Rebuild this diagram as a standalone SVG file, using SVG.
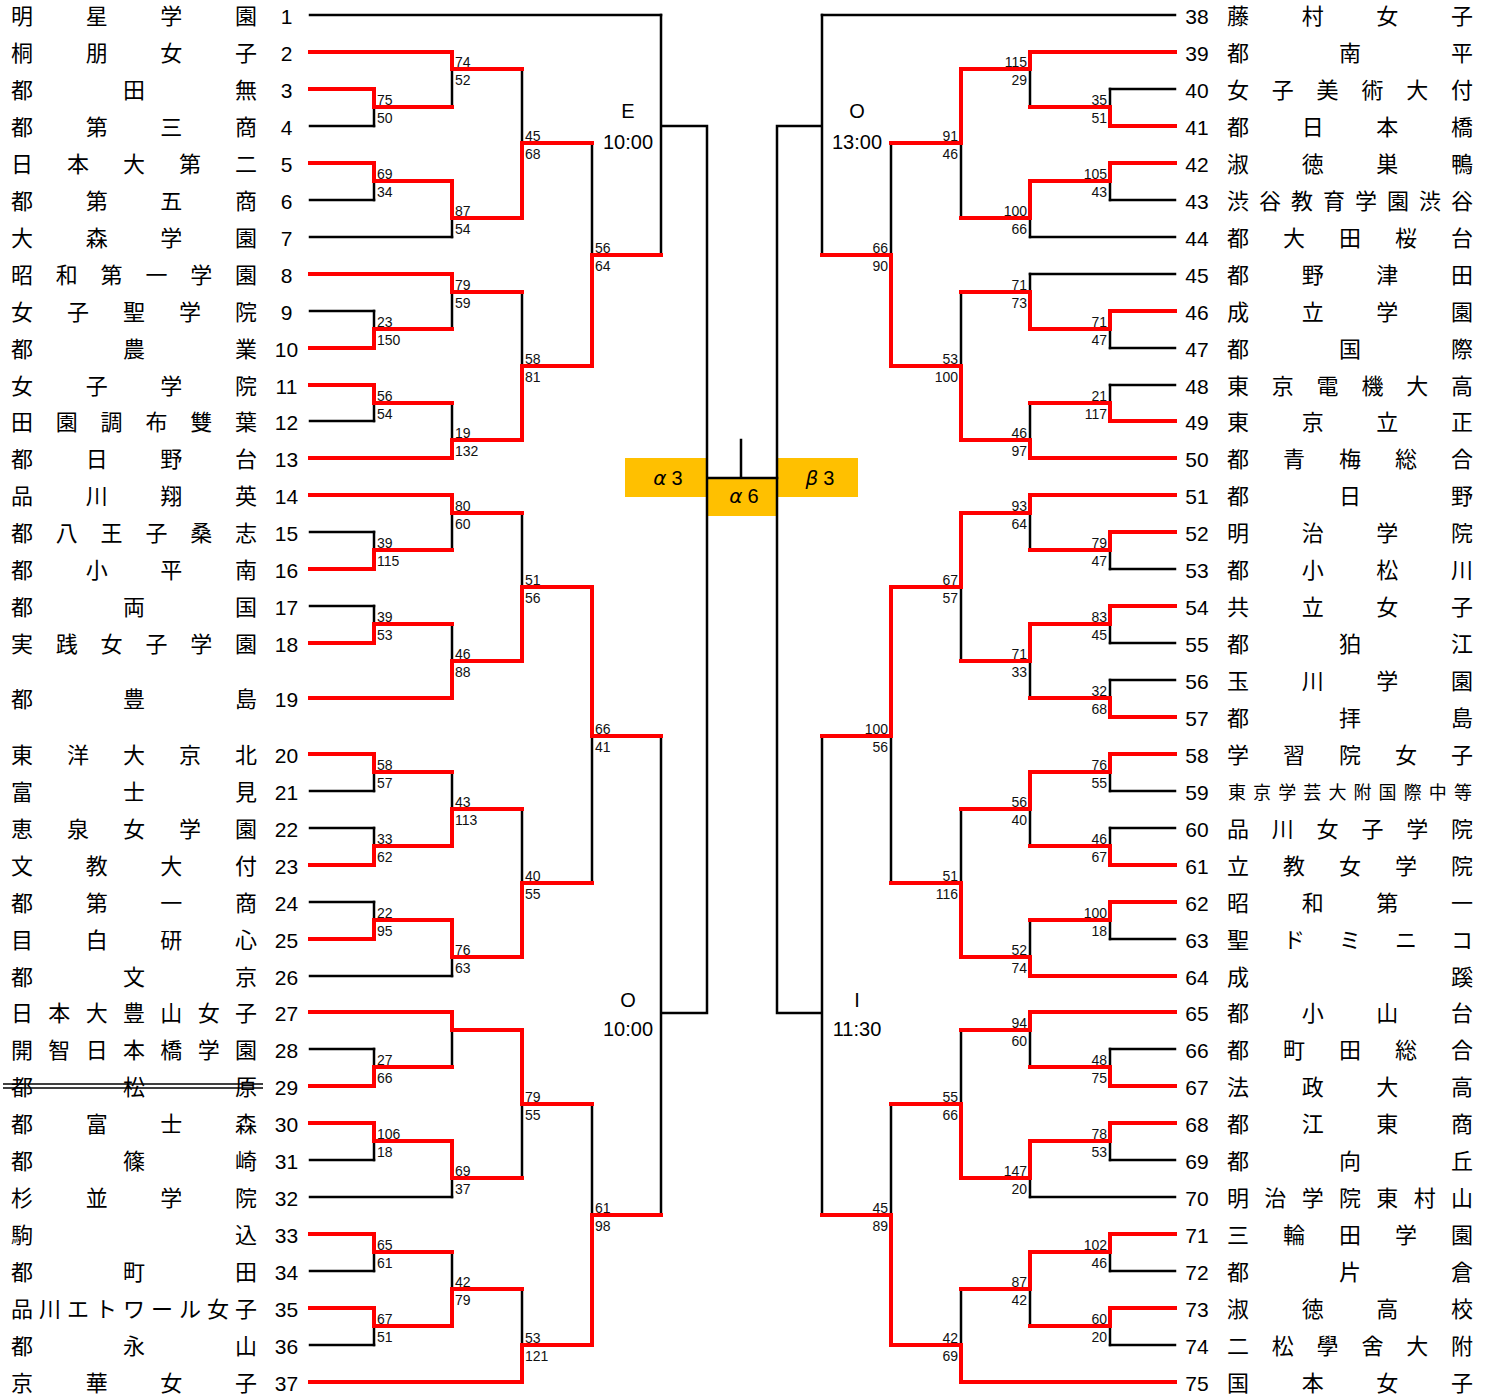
<svg xmlns="http://www.w3.org/2000/svg" width="1491" height="1398" viewBox="0 0 1491 1398">
<style>
.b{fill:none;stroke:#000;stroke-width:2.5;stroke-linecap:square}
.r{fill:none;stroke:#f00;stroke-width:4;stroke-linecap:square}
.k{fill:none;stroke:#000;stroke-width:1.3}
.nm{font-family:"Noto Sans CJK JP","Noto Sans CJK SC",sans-serif;font-size:22px;fill:#000}
.nm2{font-family:"Noto Sans CJK JP","Noto Sans CJK SC",sans-serif;font-size:18px;fill:#000}
.no{font-family:"Liberation Sans",Arial,sans-serif;font-size:21px;text-anchor:middle;fill:#000}
.sc{font-family:"Liberation Sans",Arial,sans-serif;font-size:14px;fill:#111}
.se{font-family:"Liberation Sans",Arial,sans-serif;font-size:14px;fill:#111;text-anchor:end}
.rd{font-family:"Liberation Sans",Arial,sans-serif;font-size:20px;text-anchor:middle;fill:#000}
.bx{fill:#FFC000}
.gl{font-family:"Liberation Sans",Arial,sans-serif;font-size:20px;text-anchor:middle;fill:#000}
.it{font-style:italic;font-family:"DejaVu Sans","Liberation Sans",sans-serif}
</style>
<rect width="1491" height="1398" fill="#fff"/>

<g id="final-boxes">
<rect class="bx" x="625" y="458" width="81" height="39"/>
<rect class="bx" x="778" y="458" width="80" height="39"/>
<rect class="bx" x="708" y="478" width="68" height="38"/>
</g>

<g id="connectors">
<path class="b" d="M310 15H661M310 126H374M310 200H374M310 237H452M310 311H374M310 421H374M310 532H374M310 606H374M310 791H374M310 828H374M310 902H374M310 976H452M310 1049H374M310 1160H374M310 1197H452M310 1271H374M310 1345H374"/>
<path class="b" d="M374 89V126M374 163V200M374 311V348M374 385V421M374 532V569M374 606V643M374 754V791M374 828V865M374 902V939M374 1049V1086M374 1123V1160M374 1234V1271M374 1308V1345"/>
<path class="b" d="M452 52V107M452 181V237M452 274V329M452 403V458M452 495V550M452 624V698M452 772V846M452 920V976M452 1012V1067M452 1141V1197M452 1252V1326"/>
<path class="b" d="M522 69V218M522 292V440M522 513V661M522 809V957M522 1030V1178M522 1289V1382"/>
<path class="b" d="M592 143V366M592 587V883M592 1104V1345M661 15V255M661 736V1215M661 126H707M661 1013H707M707 126V1013M707 478H777M741 440V478"/>
<path class="b" d="M1175 15H822M1175 89H1110M1175 200H1110M1175 237H1030M1175 274H1030M1175 348H1110M1175 385H1110M1175 569H1110M1175 643H1110M1175 680H1110M1175 791H1110M1175 828H1110M1175 939H1110M1175 1049H1110M1175 1160H1110M1175 1197H1030M1175 1271H1110M1175 1345H1110"/>
<path class="b" d="M1110 89V126M1110 163V200M1110 311V348M1110 385V421M1110 532V569M1110 606V643M1110 680V717M1110 754V791M1110 828V865M1110 902V939M1110 1049V1086M1110 1123V1160M1110 1234V1271M1110 1308V1345"/>
<path class="b" d="M1030 52V107M1030 181V237M1030 274V329M1030 403V458M1030 495V550M1030 624V698M1030 772V846M1030 920V976M1030 1012V1067M1030 1141V1197M1030 1252V1326"/>
<path class="b" d="M961 69V218M961 292V440M961 513V661M961 809V957M961 1030V1178M961 1289V1382"/>
<path class="b" d="M891 143V366M891 587V883M891 1104V1345M822 15V255M822 736V1215M822 126H777M822 1013H777M777 126V1013"/>

<path class="r" d="M310 52H452M310 89H374M310 163H374M310 274H452M310 348H374M310 385H374M310 458H452M310 495H452M310 569H374M310 643H374M310 698H452M310 754H374M310 865H374M310 939H374M310 1012H452M310 1086H374M310 1123H374M310 1234H374M310 1308H374M310 1382H522"/>
<path class="r" d="M374 89V107H452M374 163V181H452M374 348V329H452M374 385V403H452M374 569V550H452M374 643V624H452M374 754V772H452M374 865V846H452M374 939V920H452M374 1086V1067H452M374 1123V1141H452M374 1234V1252H452M374 1308V1326H452"/>
<path class="r" d="M452 52V69H522M452 181V218H522M452 274V292H522M452 458V440H522M452 495V513H522M452 698V661H522M452 846V809H522M452 920V957H522M452 1012V1030H522M452 1141V1178H522M452 1326V1289H522"/>
<path class="r" d="M522 218V143H592M522 440V366H592M522 661V587H592M522 957V883H592M522 1030V1104H592M522 1382V1345H592M592 366V255H661M592 587V736H661M592 1345V1215H661"/>
<path class="r" d="M1175 52H1030M1175 126H1110M1175 163H1110M1175 311H1110M1175 421H1110M1175 458H1030M1175 495H1030M1175 532H1110M1175 606H1110M1175 717H1110M1175 754H1110M1175 865H1110M1175 902H1110M1175 976H1030M1175 1012H1030M1175 1086H1110M1175 1123H1110M1175 1234H1110M1175 1308H1110M1175 1382H961"/>
<path class="r" d="M1110 126V107H1030M1110 163V181H1030M1110 311V329H1030M1110 421V403H1030M1110 532V550H1030M1110 606V624H1030M1110 717V698H1030M1110 754V772H1030M1110 865V846H1030M1110 902V920H1030M1110 1086V1067H1030M1110 1123V1141H1030M1110 1234V1252H1030M1110 1308V1326H1030"/>
<path class="r" d="M1030 52V69H961M1030 181V218H961M1030 329V292H961M1030 458V440H961M1030 495V513H961M1030 624V661H961M1030 772V809H961M1030 976V957H961M1030 1012V1030H961M1030 1141V1178H961M1030 1252V1289H961"/>
<path class="r" d="M961 69V143H891M961 440V366H891M961 513V587H891M961 957V883H891M961 1178V1104H891M961 1382V1345H891M891 366V255H822M891 587V736H822M891 1345V1215H822"/>
</g>

<g id="scores">
<text class="sc" x="377" y="105">75</text><text class="sc" x="377" y="123">50</text>
<text class="sc" x="377" y="179">69</text><text class="sc" x="377" y="197">34</text>
<text class="sc" x="377" y="327">23</text><text class="sc" x="377" y="345">150</text>
<text class="sc" x="377" y="401">56</text><text class="sc" x="377" y="419">54</text>
<text class="sc" x="377" y="548">39</text><text class="sc" x="377" y="566">115</text>
<text class="sc" x="377" y="622">39</text><text class="sc" x="377" y="640">53</text>
<text class="sc" x="377" y="770">58</text><text class="sc" x="377" y="788">57</text>
<text class="sc" x="377" y="844">33</text><text class="sc" x="377" y="862">62</text>
<text class="sc" x="377" y="918">22</text><text class="sc" x="377" y="936">95</text>
<text class="sc" x="377" y="1065">27</text><text class="sc" x="377" y="1083">66</text>
<text class="sc" x="377" y="1139">106</text><text class="sc" x="377" y="1157">18</text>
<text class="sc" x="377" y="1250">65</text><text class="sc" x="377" y="1268">61</text>
<text class="sc" x="377" y="1324">67</text><text class="sc" x="377" y="1342">51</text>
<text class="sc" x="455" y="67">74</text><text class="sc" x="455" y="85">52</text>
<text class="sc" x="455" y="216">87</text><text class="sc" x="455" y="234">54</text>
<text class="sc" x="455" y="290">79</text><text class="sc" x="455" y="308">59</text>
<text class="sc" x="455" y="438">19</text><text class="sc" x="455" y="456">132</text>
<text class="sc" x="455" y="511">80</text><text class="sc" x="455" y="529">60</text>
<text class="sc" x="455" y="659">46</text><text class="sc" x="455" y="677">88</text>
<text class="sc" x="455" y="807">43</text><text class="sc" x="455" y="825">113</text>
<text class="sc" x="455" y="955">76</text><text class="sc" x="455" y="973">63</text>
<text class="sc" x="455" y="1176">69</text><text class="sc" x="455" y="1194">37</text>
<text class="sc" x="455" y="1287">42</text><text class="sc" x="455" y="1305">79</text>
<text class="sc" x="525" y="141">45</text><text class="sc" x="525" y="159">68</text>
<text class="sc" x="525" y="364">58</text><text class="sc" x="525" y="382">81</text>
<text class="sc" x="525" y="585">51</text><text class="sc" x="525" y="603">56</text>
<text class="sc" x="525" y="881">40</text><text class="sc" x="525" y="899">55</text>
<text class="sc" x="525" y="1102">79</text><text class="sc" x="525" y="1120">55</text>
<text class="sc" x="525" y="1343">53</text><text class="sc" x="525" y="1361">121</text>
<text class="sc" x="595" y="253">56</text><text class="sc" x="595" y="271">64</text>
<text class="sc" x="595" y="734">66</text><text class="sc" x="595" y="752">41</text>
<text class="sc" x="595" y="1213">61</text><text class="sc" x="595" y="1231">98</text>

<text class="se" x="1107" y="105">35</text><text class="se" x="1107" y="123">51</text>
<text class="se" x="1107" y="179">105</text><text class="se" x="1107" y="197">43</text>
<text class="se" x="1107" y="327">71</text><text class="se" x="1107" y="345">47</text>
<text class="se" x="1107" y="401">21</text><text class="se" x="1107" y="419">117</text>
<text class="se" x="1107" y="548">79</text><text class="se" x="1107" y="566">47</text>
<text class="se" x="1107" y="622">83</text><text class="se" x="1107" y="640">45</text>
<text class="se" x="1107" y="696">32</text><text class="se" x="1107" y="714">68</text>
<text class="se" x="1107" y="770">76</text><text class="se" x="1107" y="788">55</text>
<text class="se" x="1107" y="844">46</text><text class="se" x="1107" y="862">67</text>
<text class="se" x="1107" y="918">100</text><text class="se" x="1107" y="936">18</text>
<text class="se" x="1107" y="1065">48</text><text class="se" x="1107" y="1083">75</text>
<text class="se" x="1107" y="1139">78</text><text class="se" x="1107" y="1157">53</text>
<text class="se" x="1107" y="1250">102</text><text class="se" x="1107" y="1268">46</text>
<text class="se" x="1107" y="1324">60</text><text class="se" x="1107" y="1342">20</text>
<text class="se" x="1027" y="67">115</text><text class="se" x="1027" y="85">29</text>
<text class="se" x="1027" y="216">100</text><text class="se" x="1027" y="234">66</text>
<text class="se" x="1027" y="290">71</text><text class="se" x="1027" y="308">73</text>
<text class="se" x="1027" y="438">46</text><text class="se" x="1027" y="456">97</text>
<text class="se" x="1027" y="511">93</text><text class="se" x="1027" y="529">64</text>
<text class="se" x="1027" y="659">71</text><text class="se" x="1027" y="677">33</text>
<text class="se" x="1027" y="807">56</text><text class="se" x="1027" y="825">40</text>
<text class="se" x="1027" y="955">52</text><text class="se" x="1027" y="973">74</text>
<text class="se" x="1027" y="1028">94</text><text class="se" x="1027" y="1046">60</text>
<text class="se" x="1027" y="1176">147</text><text class="se" x="1027" y="1194">20</text>
<text class="se" x="1027" y="1287">87</text><text class="se" x="1027" y="1305">42</text>
<text class="se" x="958" y="141">91</text><text class="se" x="958" y="159">46</text>
<text class="se" x="958" y="364">53</text><text class="se" x="958" y="382">100</text>
<text class="se" x="958" y="585">67</text><text class="se" x="958" y="603">57</text>
<text class="se" x="958" y="881">51</text><text class="se" x="958" y="899">116</text>
<text class="se" x="958" y="1102">55</text><text class="se" x="958" y="1120">66</text>
<text class="se" x="958" y="1343">42</text><text class="se" x="958" y="1361">69</text>
<text class="se" x="888" y="253">66</text><text class="se" x="888" y="271">90</text>
<text class="se" x="888" y="734">100</text><text class="se" x="888" y="752">56</text>
<text class="se" x="888" y="1213">45</text><text class="se" x="888" y="1231">89</text>
</g>

<g id="rounds">
<text class="rd" x="628" y="118">E</text><text class="rd" x="628" y="149">10:00</text>
<text class="rd" x="628" y="1007">O</text><text class="rd" x="628" y="1036">10:00</text>
<text class="rd" x="857" y="118">O</text><text class="rd" x="857" y="149">13:00</text>
<text class="rd" x="857" y="1007">I</text><text class="rd" x="857" y="1036">11:30</text>
</g>

<g id="final-labels">
<text class="gl" x="668" y="485"><tspan class="it">α</tspan><tspan dx="5">3</tspan></text>
<text class="gl" x="820" y="485"><tspan class="it">β</tspan><tspan dx="5">3</tspan></text>
<text class="gl" x="744" y="503"><tspan class="it">α</tspan><tspan dx="5">6</tspan></text>
</g>

<g id="team-1"><text class="nm" x="11 85.7 160.3 235" y="24">明星学園</text><text class="no" x="286.5" y="24">1</text></g>
<g id="team-2"><text class="nm" x="11 85.7 160.3 235" y="61">桐朋女子</text><text class="no" x="286.5" y="61">2</text></g>
<g id="team-3"><text class="nm" x="11 123 235" y="98">都田無</text><text class="no" x="286.5" y="98">3</text></g>
<g id="team-4"><text class="nm" x="11 85.7 160.3 235" y="135">都第三商</text><text class="no" x="286.5" y="135">4</text></g>
<g id="team-5"><text class="nm" x="11 67 123 179 235" y="172">日本大第二</text><text class="no" x="286.5" y="172">5</text></g>
<g id="team-6"><text class="nm" x="11 85.7 160.3 235" y="209">都第五商</text><text class="no" x="286.5" y="209">6</text></g>
<g id="team-7"><text class="nm" x="11 85.7 160.3 235" y="246">大森学園</text><text class="no" x="286.5" y="246">7</text></g>
<g id="team-8"><text class="nm" x="11 55.8 100.6 145.4 190.2 235" y="283">昭和第一学園</text><text class="no" x="286.5" y="283">8</text></g>
<g id="team-9"><text class="nm" x="11 67 123 179 235" y="320">女子聖学院</text><text class="no" x="286.5" y="320">9</text></g>
<g id="team-10"><text class="nm" x="11 123 235" y="357">都農業</text><text class="no" x="286.5" y="357">10</text></g>
<g id="team-11"><text class="nm" x="11 85.7 160.3 235" y="394">女子学院</text><text class="no" x="286.5" y="394">11</text></g>
<g id="team-12"><text class="nm" x="11 55.8 100.6 145.4 190.2 235" y="430">田園調布雙葉</text><text class="no" x="286.5" y="430">12</text></g>
<g id="team-13"><text class="nm" x="11 85.7 160.3 235" y="467">都日野台</text><text class="no" x="286.5" y="467">13</text></g>
<g id="team-14"><text class="nm" x="11 85.7 160.3 235" y="504">品川翔英</text><text class="no" x="286.5" y="504">14</text></g>
<g id="team-15"><text class="nm" x="11 55.8 100.6 145.4 190.2 235" y="541">都八王子桑志</text><text class="no" x="286.5" y="541">15</text></g>
<g id="team-16"><text class="nm" x="11 85.7 160.3 235" y="578">都小平南</text><text class="no" x="286.5" y="578">16</text></g>
<g id="team-17"><text class="nm" x="11 123 235" y="615">都両国</text><text class="no" x="286.5" y="615">17</text></g>
<g id="team-18"><text class="nm" x="11 55.8 100.6 145.4 190.2 235" y="652">実践女子学園</text><text class="no" x="286.5" y="652">18</text></g>
<g id="team-19"><text class="nm" x="11 123 235" y="707">都豊島</text><text class="no" x="286.5" y="707">19</text></g>
<g id="team-20"><text class="nm" x="11 67 123 179 235" y="763">東洋大京北</text><text class="no" x="286.5" y="763">20</text></g>
<g id="team-21"><text class="nm" x="11 123 235" y="800">富士見</text><text class="no" x="286.5" y="800">21</text></g>
<g id="team-22"><text class="nm" x="11 67 123 179 235" y="837">恵泉女学園</text><text class="no" x="286.5" y="837">22</text></g>
<g id="team-23"><text class="nm" x="11 85.7 160.3 235" y="874">文教大付</text><text class="no" x="286.5" y="874">23</text></g>
<g id="team-24"><text class="nm" x="11 85.7 160.3 235" y="911">都第一商</text><text class="no" x="286.5" y="911">24</text></g>
<g id="team-25"><text class="nm" x="11 85.7 160.3 235" y="948">目白研心</text><text class="no" x="286.5" y="948">25</text></g>
<g id="team-26"><text class="nm" x="11 123 235" y="985">都文京</text><text class="no" x="286.5" y="985">26</text></g>
<g id="team-27"><text class="nm" x="11 48.3 85.7 123 160.3 197.7 235" y="1021">日本大豊山女子</text><text class="no" x="286.5" y="1021">27</text></g>
<g id="team-28"><text class="nm" x="11 48.3 85.7 123 160.3 197.7 235" y="1058">開智日本橋学園</text><text class="no" x="286.5" y="1058">28</text></g>
<g id="team-29"><text class="nm" x="11 123 235" y="1095">都松原</text><path class="k" d="M3 1084H263M3 1088H263"/><text class="no" x="286.5" y="1095">29</text></g>
<g id="team-30"><text class="nm" x="11 85.7 160.3 235" y="1132">都富士森</text><text class="no" x="286.5" y="1132">30</text></g>
<g id="team-31"><text class="nm" x="11 123 235" y="1169">都篠崎</text><text class="no" x="286.5" y="1169">31</text></g>
<g id="team-32"><text class="nm" x="11 85.7 160.3 235" y="1206">杉並学院</text><text class="no" x="286.5" y="1206">32</text></g>
<g id="team-33"><text class="nm" x="11 235" y="1243">駒込</text><text class="no" x="286.5" y="1243">33</text></g>
<g id="team-34"><text class="nm" x="11 123 235" y="1280">都町田</text><text class="no" x="286.5" y="1280">34</text></g>
<g id="team-35"><text class="nm" x="11 39 67 95 123 151 179 207 235" y="1317">品川エトワール女子</text><text class="no" x="286.5" y="1317">35</text></g>
<g id="team-36"><text class="nm" x="11 123 235" y="1354">都永山</text><text class="no" x="286.5" y="1354">36</text></g>
<g id="team-37"><text class="nm" x="11 85.7 160.3 235" y="1391">京華女子</text><text class="no" x="286.5" y="1391">37</text></g>

<g id="team-38"><text class="no" x="1197" y="24">38</text><text class="nm" x="1227 1301.7 1376.3 1451" y="24">藤村女子</text></g>
<g id="team-39"><text class="no" x="1197" y="61">39</text><text class="nm" x="1227 1339 1451" y="61">都南平</text></g>
<g id="team-40"><text class="no" x="1197" y="98">40</text><text class="nm" x="1227 1271.8 1316.6 1361.4 1406.2 1451" y="98">女子美術大付</text></g>
<g id="team-41"><text class="no" x="1197" y="135">41</text><text class="nm" x="1227 1301.7 1376.3 1451" y="135">都日本橋</text></g>
<g id="team-42"><text class="no" x="1197" y="172">42</text><text class="nm" x="1227 1301.7 1376.3 1451" y="172">淑徳巣鴨</text></g>
<g id="team-43"><text class="no" x="1197" y="209">43</text><text class="nm" x="1227 1259 1291 1323 1355 1387 1419 1451" y="209">渋谷教育学園渋谷</text></g>
<g id="team-44"><text class="no" x="1197" y="246">44</text><text class="nm" x="1227 1283 1339 1395 1451" y="246">都大田桜台</text></g>
<g id="team-45"><text class="no" x="1197" y="283">45</text><text class="nm" x="1227 1301.7 1376.3 1451" y="283">都野津田</text></g>
<g id="team-46"><text class="no" x="1197" y="320">46</text><text class="nm" x="1227 1301.7 1376.3 1451" y="320">成立学園</text></g>
<g id="team-47"><text class="no" x="1197" y="357">47</text><text class="nm" x="1227 1339 1451" y="357">都国際</text></g>
<g id="team-48"><text class="no" x="1197" y="394">48</text><text class="nm" x="1227 1271.8 1316.6 1361.4 1406.2 1451" y="394">東京電機大高</text></g>
<g id="team-49"><text class="no" x="1197" y="430">49</text><text class="nm" x="1227 1301.7 1376.3 1451" y="430">東京立正</text></g>
<g id="team-50"><text class="no" x="1197" y="467">50</text><text class="nm" x="1227 1283 1339 1395 1451" y="467">都青梅総合</text></g>
<g id="team-51"><text class="no" x="1197" y="504">51</text><text class="nm" x="1227 1339 1451" y="504">都日野</text></g>
<g id="team-52"><text class="no" x="1197" y="541">52</text><text class="nm" x="1227 1301.7 1376.3 1451" y="541">明治学院</text></g>
<g id="team-53"><text class="no" x="1197" y="578">53</text><text class="nm" x="1227 1301.7 1376.3 1451" y="578">都小松川</text></g>
<g id="team-54"><text class="no" x="1197" y="615">54</text><text class="nm" x="1227 1301.7 1376.3 1451" y="615">共立女子</text></g>
<g id="team-55"><text class="no" x="1197" y="652">55</text><text class="nm" x="1227 1339 1451" y="652">都狛江</text></g>
<g id="team-56"><text class="no" x="1197" y="689">56</text><text class="nm" x="1227 1301.7 1376.3 1451" y="689">玉川学園</text></g>
<g id="team-57"><text class="no" x="1197" y="726">57</text><text class="nm" x="1227 1339 1451" y="726">都拝島</text></g>
<g id="team-58"><text class="no" x="1197" y="763">58</text><text class="nm" x="1227 1283 1339 1395 1451" y="763">学習院女子</text></g>
<g id="team-59"><text class="no" x="1197" y="800">59</text><text class="nm2" x="1228 1253.1 1278.2 1303.3 1328.4 1353.5 1378.6 1403.7 1428.8 1454" y="799">東京学芸大附国際中等</text></g>
<g id="team-60"><text class="no" x="1197" y="837">60</text><text class="nm" x="1227 1271.8 1316.6 1361.4 1406.2 1451" y="837">品川女子学院</text></g>
<g id="team-61"><text class="no" x="1197" y="874">61</text><text class="nm" x="1227 1283 1339 1395 1451" y="874">立教女学院</text></g>
<g id="team-62"><text class="no" x="1197" y="911">62</text><text class="nm" x="1227 1301.7 1376.3 1451" y="911">昭和第一</text></g>
<g id="team-63"><text class="no" x="1197" y="948">63</text><text class="nm" x="1227 1283 1339 1395 1451" y="948">聖ドミニコ</text></g>
<g id="team-64"><text class="no" x="1197" y="985">64</text><text class="nm" x="1227 1451" y="985">成蹊</text></g>
<g id="team-65"><text class="no" x="1197" y="1021">65</text><text class="nm" x="1227 1301.7 1376.3 1451" y="1021">都小山台</text></g>
<g id="team-66"><text class="no" x="1197" y="1058">66</text><text class="nm" x="1227 1283 1339 1395 1451" y="1058">都町田総合</text></g>
<g id="team-67"><text class="no" x="1197" y="1095">67</text><text class="nm" x="1227 1301.7 1376.3 1451" y="1095">法政大高</text></g>
<g id="team-68"><text class="no" x="1197" y="1132">68</text><text class="nm" x="1227 1301.7 1376.3 1451" y="1132">都江東商</text></g>
<g id="team-69"><text class="no" x="1197" y="1169">69</text><text class="nm" x="1227 1339 1451" y="1169">都向丘</text></g>
<g id="team-70"><text class="no" x="1197" y="1206">70</text><text class="nm" x="1227 1264.3 1301.7 1339 1376.3 1413.7 1451" y="1206">明治学院東村山</text></g>
<g id="team-71"><text class="no" x="1197" y="1243">71</text><text class="nm" x="1227 1283 1339 1395 1451" y="1243">三輪田学園</text></g>
<g id="team-72"><text class="no" x="1197" y="1280">72</text><text class="nm" x="1227 1339 1451" y="1280">都片倉</text></g>
<g id="team-73"><text class="no" x="1197" y="1317">73</text><text class="nm" x="1227 1301.7 1376.3 1451" y="1317">淑徳高校</text></g>
<g id="team-74"><text class="no" x="1197" y="1354">74</text><text class="nm" x="1227 1271.8 1316.6 1361.4 1406.2 1451" y="1354">二松學舍大附</text></g>
<g id="team-75"><text class="no" x="1197" y="1391">75</text><text class="nm" x="1227 1301.7 1376.3 1451" y="1391">国本女子</text></g>
</svg>
